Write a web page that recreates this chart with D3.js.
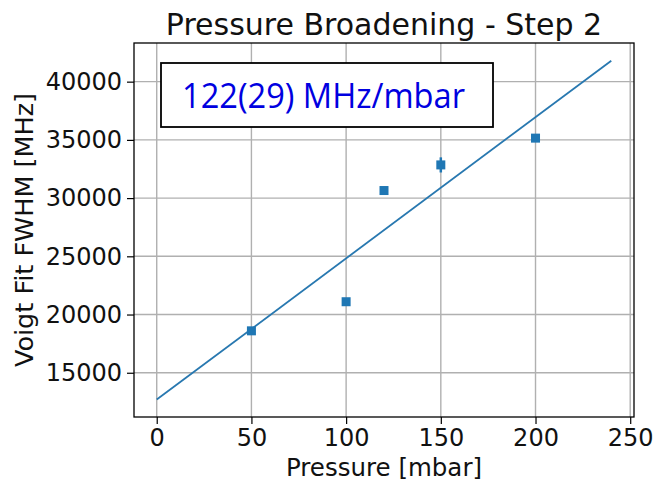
<!DOCTYPE html>
<html>
<head>
<meta charset="utf-8">
<script src="https://cdn.jsdelivr.net/npm/d3@7"></script>
<style>
  body { margin: 0; background: #fff; }
  svg { display: block; }
</style>
</head>
<body>
<script>
// data
const pressure = [50, 100, 120, 150, 200];
const fwhm = [18600, 21100, 30650, 32850, 35150];
const fwhmErr = [150, 150, 150, 650, 300];
const fitX = [0, 240];
const fitY = [12700, 41800];
const xTicks = [0, 50, 100, 150, 200, 250];
const yTicks = [15000, 20000, 25000, 30000, 35000, 40000];
const slopeLabel = "122(29) MHz/mbar";

const w = 655;
const h = 481;
const margin = {top: 43, right: 21, bottom: 64, left: 134};
const innerW = w - margin.left - margin.right;
const innerH = h - margin.top - margin.bottom;

const svg = d3.select("body").append("svg")
  .attr("width", w)
  .attr("height", h);

const g = svg.append("g")
  .attr("transform", "translate(" + margin.left + "," + margin.top + ")");

const xScale = d3.scaleLinear().domain([-12, 252]).range([0, innerW]);
const yScale = d3.scaleLinear().domain([11200, 43320]).range([innerH, 0]);

// grid
g.append("g").selectAll("line").data(xTicks).enter().append("line")
  .attr("x1", d => xScale(d)).attr("x2", d => xScale(d))
  .attr("y1", 0).attr("y2", innerH)
  .attr("stroke", "#b0b0b0").attr("stroke-width", 1.4);
g.append("g").selectAll("line").data(yTicks).enter().append("line")
  .attr("y1", d => yScale(d)).attr("y2", d => yScale(d))
  .attr("x1", 0).attr("x2", innerW)
  .attr("stroke", "#b0b0b0").attr("stroke-width", 1.4);

// axes
const xAxis = d3.axisBottom(xScale).tickValues(xTicks).tickSize(7).tickPadding(5);
const yAxis = d3.axisLeft(yScale).tickValues(yTicks).tickSize(7).tickPadding(5).tickFormat(d3.format("d"));

const xAxisG = g.append("g").attr("transform", "translate(0," + innerH + ")").call(xAxis);
xAxisG.select(".domain").remove();
xAxisG.selectAll("line").attr("stroke", "#000").attr("stroke-width", 1.2);
xAxisG.selectAll("text")
  .attr("fill", "#111")
  .style("font-family", "'DejaVu Sans', sans-serif")
  .style("font-size", "24px");

const yAxisG = g.append("g").call(yAxis);
yAxisG.select(".domain").remove();
yAxisG.selectAll("line").attr("stroke", "#000").attr("stroke-width", 1.2);
yAxisG.selectAll("text")
  .attr("fill", "#111")
  .style("font-family", "'DejaVu Sans', sans-serif")
  .style("font-size", "24px");

// frame
g.append("rect")
  .attr("width", innerW).attr("height", innerH)
  .attr("fill", "none").attr("stroke", "#000").attr("stroke-width", 1.3);

// fit line
const line = d3.line().x(d => xScale(d[0])).y(d => yScale(d[1]));
g.append("path")
  .datum(d3.zip(fitX, fitY))
  .attr("d", line)
  .attr("fill", "none")
  .attr("stroke", "#2878b0")
  .attr("stroke-width", 1.8);

// error bars
const pts = d3.zip(pressure, fwhm, fwhmErr);
g.append("g").selectAll("line").data(pts).enter().append("line")
  .attr("x1", d => xScale(d[0])).attr("x2", d => xScale(d[0]))
  .attr("y1", d => yScale(d[1] - d[2])).attr("y2", d => yScale(d[1] + d[2]))
  .attr("stroke", "#1f77b4").attr("stroke-width", 2.5);

// square markers
const ms = 9;
g.append("g").selectAll("rect").data(pts).enter().append("rect")
  .attr("x", d => xScale(d[0]) - ms / 2)
  .attr("y", d => yScale(d[1]) - ms / 2)
  .attr("width", ms).attr("height", ms)
  .attr("fill", "#1f77b4");

// slope label box
g.append("rect")
  .attr("x", 27).attr("y", 20)
  .attr("width", 332).attr("height", 64)
  .attr("fill", "#fff").attr("stroke", "#000").attr("stroke-width", 1.8);
g.append("text")
  .attr("x", 48).attr("y", 65)
  .attr("fill", "#0000e0")
  .attr("textLength", 283).attr("lengthAdjust", "spacingAndGlyphs")
  .style("font-family", "'Open Sans', 'Noto Sans', sans-serif")
  .style("font-size", "35px")
  .text(slopeLabel);

// title
svg.append("text")
  .attr("x", margin.left + innerW / 2).attr("y", 35)
  .attr("text-anchor", "middle")
  .attr("fill", "#111")
  .style("font-family", "'DejaVu Sans', sans-serif")
  .style("font-size", "30px")
  .text("Pressure Broadening - Step 2");

// axis labels
svg.append("text")
  .attr("x", margin.left + innerW / 2).attr("y", 476)
  .attr("text-anchor", "middle")
  .attr("fill", "#111")
  .style("font-family", "'DejaVu Sans', sans-serif")
  .style("font-size", "24.5px")
  .text("Pressure [mbar]");

svg.append("text")
  .attr("transform", "translate(33,230) rotate(-90)")
  .attr("text-anchor", "middle")
  .attr("fill", "#111")
  .style("font-family", "'DejaVu Sans', sans-serif")
  .style("font-size", "25.5px")
  .text("Voigt Fit FWHM [MHz]");
</script>
</body>
</html>
